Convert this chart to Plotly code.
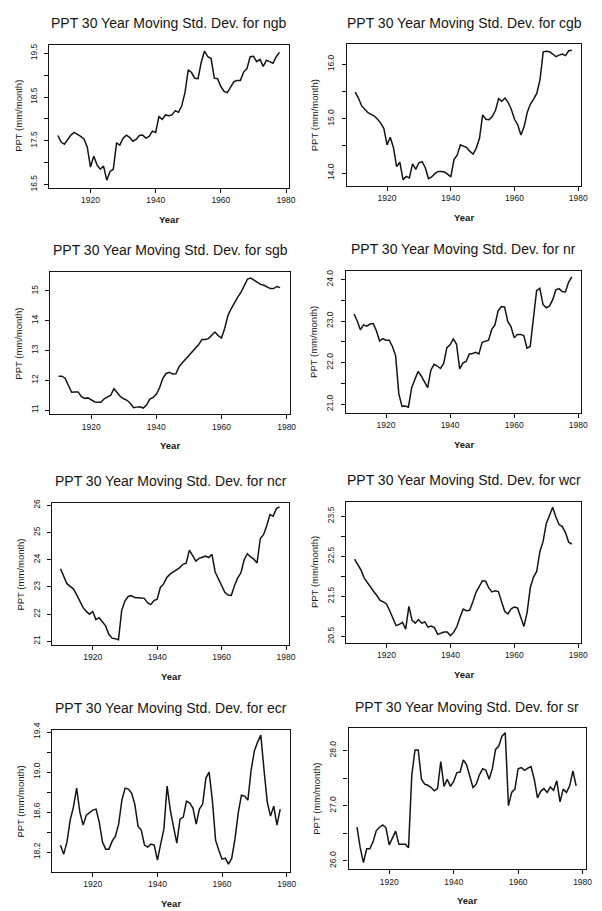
import plotly.graph_objects as go

# ---------------------------------------------------------------------------
# 30-year moving standard deviation of precipitation (mm/month), by region
# ---------------------------------------------------------------------------
YEARS = list(range(1910, 1979))

NGB = [17.62, 17.47, 17.42, 17.52, 17.63, 17.69, 17.65, 17.60, 17.54, 17.36,
       16.90, 17.15, 16.95, 16.85, 16.92, 16.60, 16.80, 16.85, 17.45, 17.40,
       17.56, 17.63, 17.58, 17.49, 17.53, 17.62, 17.63, 17.56, 17.60, 17.72,
       17.69, 18.05, 17.99, 18.09, 18.07, 18.09, 18.19, 18.15, 18.30, 18.60,
       19.12, 19.06, 18.93, 18.92, 19.30, 19.55, 19.42, 19.38, 18.93, 18.92,
       18.74, 18.63, 18.60, 18.73, 18.85, 18.88, 18.88, 19.07, 19.15, 19.42,
       19.43, 19.31, 19.36, 19.20, 19.34, 19.31, 19.27, 19.42, 19.52]

CGB = [15.49, 15.38, 15.24, 15.18, 15.11, 15.08, 15.05, 14.99, 14.92, 14.82,
       14.52, 14.66, 14.47, 14.12, 14.20, 13.88, 13.94, 13.91, 14.17, 14.07,
       14.19, 14.21, 14.10, 13.90, 13.93, 13.99, 14.03, 14.03, 14.02, 13.98,
       13.93, 14.25, 14.33, 14.52, 14.50, 14.47, 14.40, 14.35, 14.46, 14.64,
       15.07, 14.99, 14.98, 15.04, 15.15, 15.37, 15.32, 15.38, 15.30, 15.17,
       14.99, 14.89, 14.70, 14.85, 15.12, 15.27, 15.36, 15.47, 15.72, 16.23,
       16.24, 16.23, 16.19, 16.14, 16.17, 16.19, 16.16, 16.25, 16.26]

SGB = [12.14, 12.14, 12.07, 11.84, 11.60, 11.61, 11.61, 11.45, 11.39, 11.41,
       11.33, 11.28, 11.26, 11.26, 11.38, 11.44, 11.50, 11.72, 11.58, 11.45,
       11.38, 11.33, 11.23, 11.08, 11.10, 11.11, 11.07, 11.17, 11.37, 11.43,
       11.53, 11.75, 12.07, 12.23, 12.27, 12.21, 12.22, 12.46, 12.59, 12.71,
       12.85, 12.96, 13.08, 13.20, 13.37, 13.37, 13.40, 13.52, 13.62, 13.50,
       13.42, 13.75, 14.18, 14.41, 14.62, 14.79, 14.96, 15.19, 15.40, 15.43,
       15.36, 15.28, 15.22, 15.19, 15.14, 15.08, 15.08, 15.15, 15.11]

NR = [23.17, 23.01, 22.79, 22.91, 22.88, 22.93, 22.94, 22.77, 22.52, 22.58,
      22.54, 22.54, 22.39, 22.17, 21.25, 20.95, 20.96, 20.93, 21.40, 21.61,
      21.79, 21.68, 21.54, 21.40, 21.82, 21.96, 21.92, 21.86, 21.98, 22.36,
      22.43, 22.57, 22.45, 21.85, 21.99, 22.03, 22.21, 22.22, 22.25, 22.21,
      22.49, 22.52, 22.54, 22.80, 22.91, 23.25, 23.35, 23.34, 22.99, 22.87,
      22.60, 22.68, 22.68, 22.65, 22.35, 22.39, 23.00, 23.73, 23.79, 23.40,
      23.32, 23.36, 23.51, 23.75, 23.78, 23.71, 23.70, 23.94, 24.06]

NCR = [23.67, 23.41, 23.12, 23.02, 22.93, 22.72, 22.47, 22.25, 22.10, 22.00,
       22.10, 21.80, 21.87, 21.74, 21.57, 21.26, 21.12, 21.10, 21.06, 22.14,
       22.48, 22.65, 22.68, 22.61, 22.61, 22.59, 22.58, 22.42, 22.35, 22.50,
       22.55, 22.98, 23.11, 23.35, 23.47, 23.55, 23.65, 23.71, 23.83, 23.87,
       24.35, 24.16, 23.95, 24.05, 24.10, 24.13, 24.08, 24.20, 23.55, 23.30,
       23.00, 22.80, 22.70, 22.69, 23.05, 23.33, 23.52, 24.00, 24.22, 24.10,
       24.02, 23.88, 24.78, 24.92, 25.25, 25.66, 25.60, 25.88, 25.94]

WCR = [22.43, 22.29, 22.16, 21.96, 21.84, 21.72, 21.62, 21.52, 21.40, 21.36,
       21.31, 21.14, 20.95, 20.77, 20.80, 20.85, 20.68, 21.25, 20.90, 20.83,
       20.92, 20.83, 20.86, 20.73, 20.76, 20.72, 20.55, 20.58, 20.61, 20.61,
       20.52, 20.60, 20.74, 20.98, 21.18, 21.14, 21.15, 21.36, 21.60, 21.74,
       21.89, 21.88, 21.71, 21.61, 21.64, 21.62, 21.39, 21.12, 21.06, 21.19,
       21.23, 21.21, 20.98, 20.75, 21.10, 21.72, 21.98, 22.12, 22.62, 22.87,
       23.32, 23.52, 23.72, 23.48, 23.29, 23.24, 23.09, 22.85, 22.80]

ECR = [18.27, 18.18, 18.30, 18.52, 18.65, 18.84, 18.60, 18.47, 18.57, 18.60,
       18.62, 18.63, 18.50, 18.30, 18.23, 18.23, 18.31, 18.36, 18.48, 18.72,
       18.84, 18.83, 18.79, 18.68, 18.46, 18.42, 18.27, 18.25, 18.28, 18.27,
       18.12, 18.28, 18.43, 18.86, 18.62, 18.45, 18.29, 18.53, 18.55, 18.71,
       18.69, 18.64, 18.48, 18.63, 18.68, 18.94, 19.00, 18.72, 18.32, 18.22,
       18.13, 18.14, 18.08, 18.14, 18.33, 18.59, 18.77, 18.76, 18.72, 19.02,
       19.21, 19.30, 19.37, 19.02, 18.70, 18.56, 18.66, 18.47, 18.63]

SR = [26.61, 26.24, 25.97, 26.22, 26.22, 26.35, 26.55, 26.61, 26.65, 26.60,
      26.29, 26.43, 26.54, 26.30, 26.30, 26.30, 26.24, 27.55, 28.01, 28.01,
      27.48, 27.39, 27.37, 27.33, 27.27, 27.31, 27.80, 27.35, 27.48, 27.35,
      27.44, 27.60, 27.61, 27.83, 27.74, 27.51, 27.33, 27.39, 27.56, 27.67,
      27.64, 27.48, 27.67, 28.02, 28.08, 28.26, 28.32, 27.00, 27.24, 27.30,
      27.67, 27.69, 27.64, 27.68, 27.71, 27.48, 27.14, 27.26, 27.31, 27.24,
      27.34, 27.28, 27.45, 27.07, 27.30, 27.24, 27.36, 27.63, 27.36]

REGIONS = ["ngb", "cgb", "sgb", "nr", "ncr", "wcr", "ecr", "sr"]
SERIES = [NGB, CGB, SGB, NR, NCR, WCR, ECR, SR]

# y-axis ticks: every tick is drawn, only the labelled ones carry text
Y_TICKS = [
    [16.5, 17.0, 17.5, 18.0, 18.5, 19.0, 19.5],
    [14.0, 14.5, 15.0, 15.5, 16.0],
    [11, 12, 13, 14, 15],
    [21.0, 21.5, 22.0, 22.5, 23.0, 23.5, 24.0],
    [21, 22, 23, 24, 25, 26],
    [20.5, 21.0, 21.5, 22.0, 22.5, 23.0, 23.5],
    [18.2, 18.4, 18.6, 18.8, 19.0, 19.2, 19.4],
    [26.0, 26.5, 27.0, 27.5, 28.0],
]
Y_LABELS = [
    ["16.5", "", "17.5", "", "18.5", "", "19.5"],
    ["14.0", "", "15.0", "", "16.0"],
    ["11", "12", "13", "14", "15"],
    ["21.0", "", "22.0", "", "23.0", "", "24.0"],
    ["21", "22", "23", "24", "25", "26"],
    ["20.5", "", "21.5", "", "22.5", "", "23.5"],
    ["18.2", "", "18.6", "", "19.0", "", "19.4"],
    ["26.0", "", "27.0", "", "28.0"],
]
X_TICKS = [1920, 1940, 1960, 1980]
X_LABELS = ["1920", "1940", "1960", "1980"]

TITLE_FMT = "PPT 30 Year Moving Std. Dev. for {}"
X_TITLE = "Year"
Y_TITLE = "PPT (mm/month)"

# ---------------------------------------------------------------------------
# page geometry (pixels): plot frame of each panel, left/top/right/bottom
# ---------------------------------------------------------------------------
W, H = 602, 911
FRAMES = [
    (50.0, 37.0, 292.7, 182.0),
    (351.0, 36.7, 588.3, 180.0),
    (50.7, 267.7, 293.3, 411.7),
    (349.7, 266.7, 588.3, 410.0),
    (52.7, 501.7, 292.7, 645.7),
    (350.3, 500.7, 588.3, 643.3),
    (52.7, 731.7, 293.3, 875.7),
    (352.7, 730.0, 592.7, 872.7),
]
Y_RANGES = [
    (16.43, 19.70), (13.77, 16.37), (10.86, 15.63), (20.80, 24.20),
    (20.86, 26.08), (20.34, 23.85), (18.00, 19.42), (25.85, 28.40),
]
X_RANGE = (1907.4, 1981.0)

FONT = "Liberation Sans, Arial, Helvetica, sans-serif"
INK = "#141414"

fig = go.Figure()
layout = {}
annotations = []

for i, (region, values) in enumerate(zip(REGIONS, SERIES)):
    n = i + 1
    xa, ya = ("x", "y") if n == 1 else (f"x{n}", f"y{n}")
    l, t, r, b = FRAMES[i]

    fig.add_trace(go.Scatter(
        x=YEARS, y=values, mode="lines",
        line=dict(color=INK, width=1.5),
        xaxis=xa, yaxis=ya, showlegend=False, hoverinfo="skip",
    ))

    common = dict(
        showline=True, mirror=True, linecolor=INK, linewidth=1.2,
        ticks="outside", ticklen=4, tickwidth=1, tickcolor=INK,
        showgrid=False, zeroline=False, fixedrange=True,
    )
    layout["xaxis" if n == 1 else f"xaxis{n}"] = dict(
        domain=[l / W, r / W], anchor=ya, range=list(X_RANGE),
        tickmode="array", tickvals=X_TICKS, ticktext=X_LABELS,
        tickfont=dict(family=FONT, size=8.5, color=INK),
        ticklabelstandoff=0,
        **common,
    )
    layout["yaxis" if n == 1 else f"yaxis{n}"] = dict(
        domain=[1 - b / H, 1 - t / H], anchor=xa, range=list(Y_RANGES[i]),
        tickmode="array", tickvals=Y_TICKS[i], ticktext=Y_LABELS[i],
        tickangle=-90,
        tickfont=dict(family=FONT, size=8.5, color=INK),
        ticklabelstandoff=4,
        **common,
    )

    cx = (l + r) / 2
    annotations.append(dict(
        text=TITLE_FMT.format(region), x=cx / W, y=1 - (t - 22) / H,
        xref="paper", yref="paper", xanchor="center", yanchor="middle",
        showarrow=False, font=dict(family=FONT, size=14, color=INK),
    ))
    annotations.append(dict(
        text=f"<b>{X_TITLE}</b>", x=cx / W, y=1 - (b + 32) / H,
        xref="paper", yref="paper", xanchor="center", yanchor="middle",
        showarrow=False, font=dict(family=FONT, size=9.5, color=INK),
    ))
    annotations.append(dict(
        text=Y_TITLE, x=(l - 32) / W, y=1 - ((t + b) / 2) / H,
        xref="paper", yref="paper", xanchor="center", yanchor="middle",
        textangle=-90, showarrow=False,
        font=dict(family=FONT, size=9.5, color=INK),
    ))

fig.update_layout(
    width=W, height=H, autosize=False,
    margin=dict(l=0, r=0, t=0, b=0, pad=0),
    paper_bgcolor="white", plot_bgcolor="white",
    annotations=annotations,
    **layout,
)

fig.write_html("out.html", config={"displayModeBar": False})
